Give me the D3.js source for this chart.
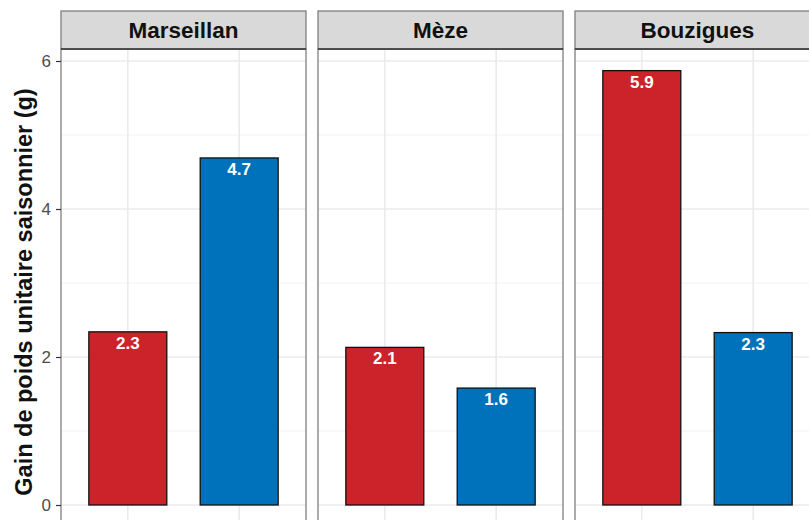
<!DOCTYPE html>
<html><head><meta charset="utf-8">
<script src="https://cdn.jsdelivr.net/npm/d3@7"></script>
<style>body{margin:0;background:#fff}svg{display:block}</style>
</head><body>
<script>
const sites = ["Marseillan", "Mèze", "Bouzigues"];
const groups = ["A", "B"];
const valuesA = [2.34, 2.13, 5.87];
const valuesB = [4.69, 1.58, 2.33];
const yTicks = [0, 2, 4, 6];
const yMinor = [1, 3, 5];
const colors = ["#CC2229", "#0072BB"];
const yTitle = "Gain de poids unitaire saisonnier (g)";

const W = 809, H = 520;
const svg = d3.select("body").append("svg").attr("width", W).attr("height", H);
const font = "Liberation Sans, Arial, sans-serif";

const panelW = 245, gap = 12, left0 = 61;
const stripTop = 11, stripH = 38, plotTop = stripTop + stripH;
const y = d3.scaleLinear().domain([0, 6]).range([505, 61]);
const plotBottom = y(-0.3);

// ggplot-style discrete positions 1..n with 0.6 expansion
const xc = d3.scaleLinear().domain([0.4, 2.6]).range([0, panelW]);

sites.forEach((s, i) => {
  const px = left0 + i * (panelW + gap);
  const g = svg.append("g").attr("transform", `translate(${px},0)`);
  g.append("rect").attr("x", 0).attr("y", plotTop).attr("width", panelW).attr("height", plotBottom - plotTop).attr("fill", "#fff");
  yMinor.forEach(v => g.append("line").attr("x1", 0).attr("x2", panelW).attr("y1", y(v)).attr("y2", y(v)).attr("stroke", "#F2F2F2").attr("stroke-width", 1));
  yTicks.forEach(v => g.append("line").attr("x1", 0).attr("x2", panelW).attr("y1", y(v)).attr("y2", y(v)).attr("stroke", "#EBEBEB").attr("stroke-width", 1.6));
  groups.forEach((gr, j) => g.append("line").attr("x1", xc(j + 1)).attr("x2", xc(j + 1)).attr("y1", plotTop).attr("y2", plotBottom).attr("stroke", "#EBEBEB").attr("stroke-width", 1.6));
  const vals = [valuesA[i], valuesB[i]];
  vals.forEach((v, j) => {
    const bx = xc(j + 1 - 0.35), bw = xc(j + 1 + 0.35) - bx;
    g.append("rect").attr("x", bx).attr("y", y(v)).attr("width", bw).attr("height", y(0) - y(v))
      .attr("fill", colors[j]).attr("stroke", "#111").attr("stroke-width", 1.3);
    g.append("text").attr("x", xc(j + 1)).attr("y", y(v) + 17).attr("text-anchor", "middle")
      .attr("font-family", font).attr("font-weight", "bold").attr("font-size", 17).attr("fill", "#fff")
      .text(d3.format(".1f")(v));
  });
  g.append("rect").attr("x", 0).attr("y", plotTop).attr("width", panelW).attr("height", plotBottom - plotTop)
    .attr("fill", "none").attr("stroke", "#7F7F7F").attr("stroke-width", 1.3);
  g.append("rect").attr("x", 0).attr("y", stripTop).attr("width", panelW).attr("height", stripH)
    .attr("fill", "#D9D9D9").attr("stroke", "#7F7F7F").attr("stroke-width", 1.3);
  g.append("line").attr("x1", 0).attr("x2", panelW).attr("y1", plotTop).attr("y2", plotTop).attr("stroke", "#333").attr("stroke-width", 1.3);
  g.append("text").attr("x", panelW / 2).attr("y", stripTop + stripH / 2 + 8).attr("text-anchor", "middle")
    .attr("font-family", font).attr("font-weight", "bold").attr("font-size", 22.5).attr("fill", "#111").text(s);
});

const ax = svg.append("g").attr("transform", `translate(${left0},0)`)
  .call(d3.axisLeft(y).tickValues(yTicks).tickSize(5).tickPadding(5).tickFormat(d3.format("d")));
ax.select(".domain").remove();
ax.selectAll(".tick line").attr("stroke", "#333").attr("stroke-width", 1.2);
ax.selectAll(".tick text").attr("font-family", font).attr("font-size", 17).attr("fill", "#4D4D4D");

svg.append("text").attr("transform", `translate(32,292) rotate(-90)`)
  .attr("text-anchor", "middle").attr("font-family", font).attr("font-weight", "bold")
  .attr("font-size", 23.5).attr("fill", "#111").text(yTitle);
</script>
</body></html>
